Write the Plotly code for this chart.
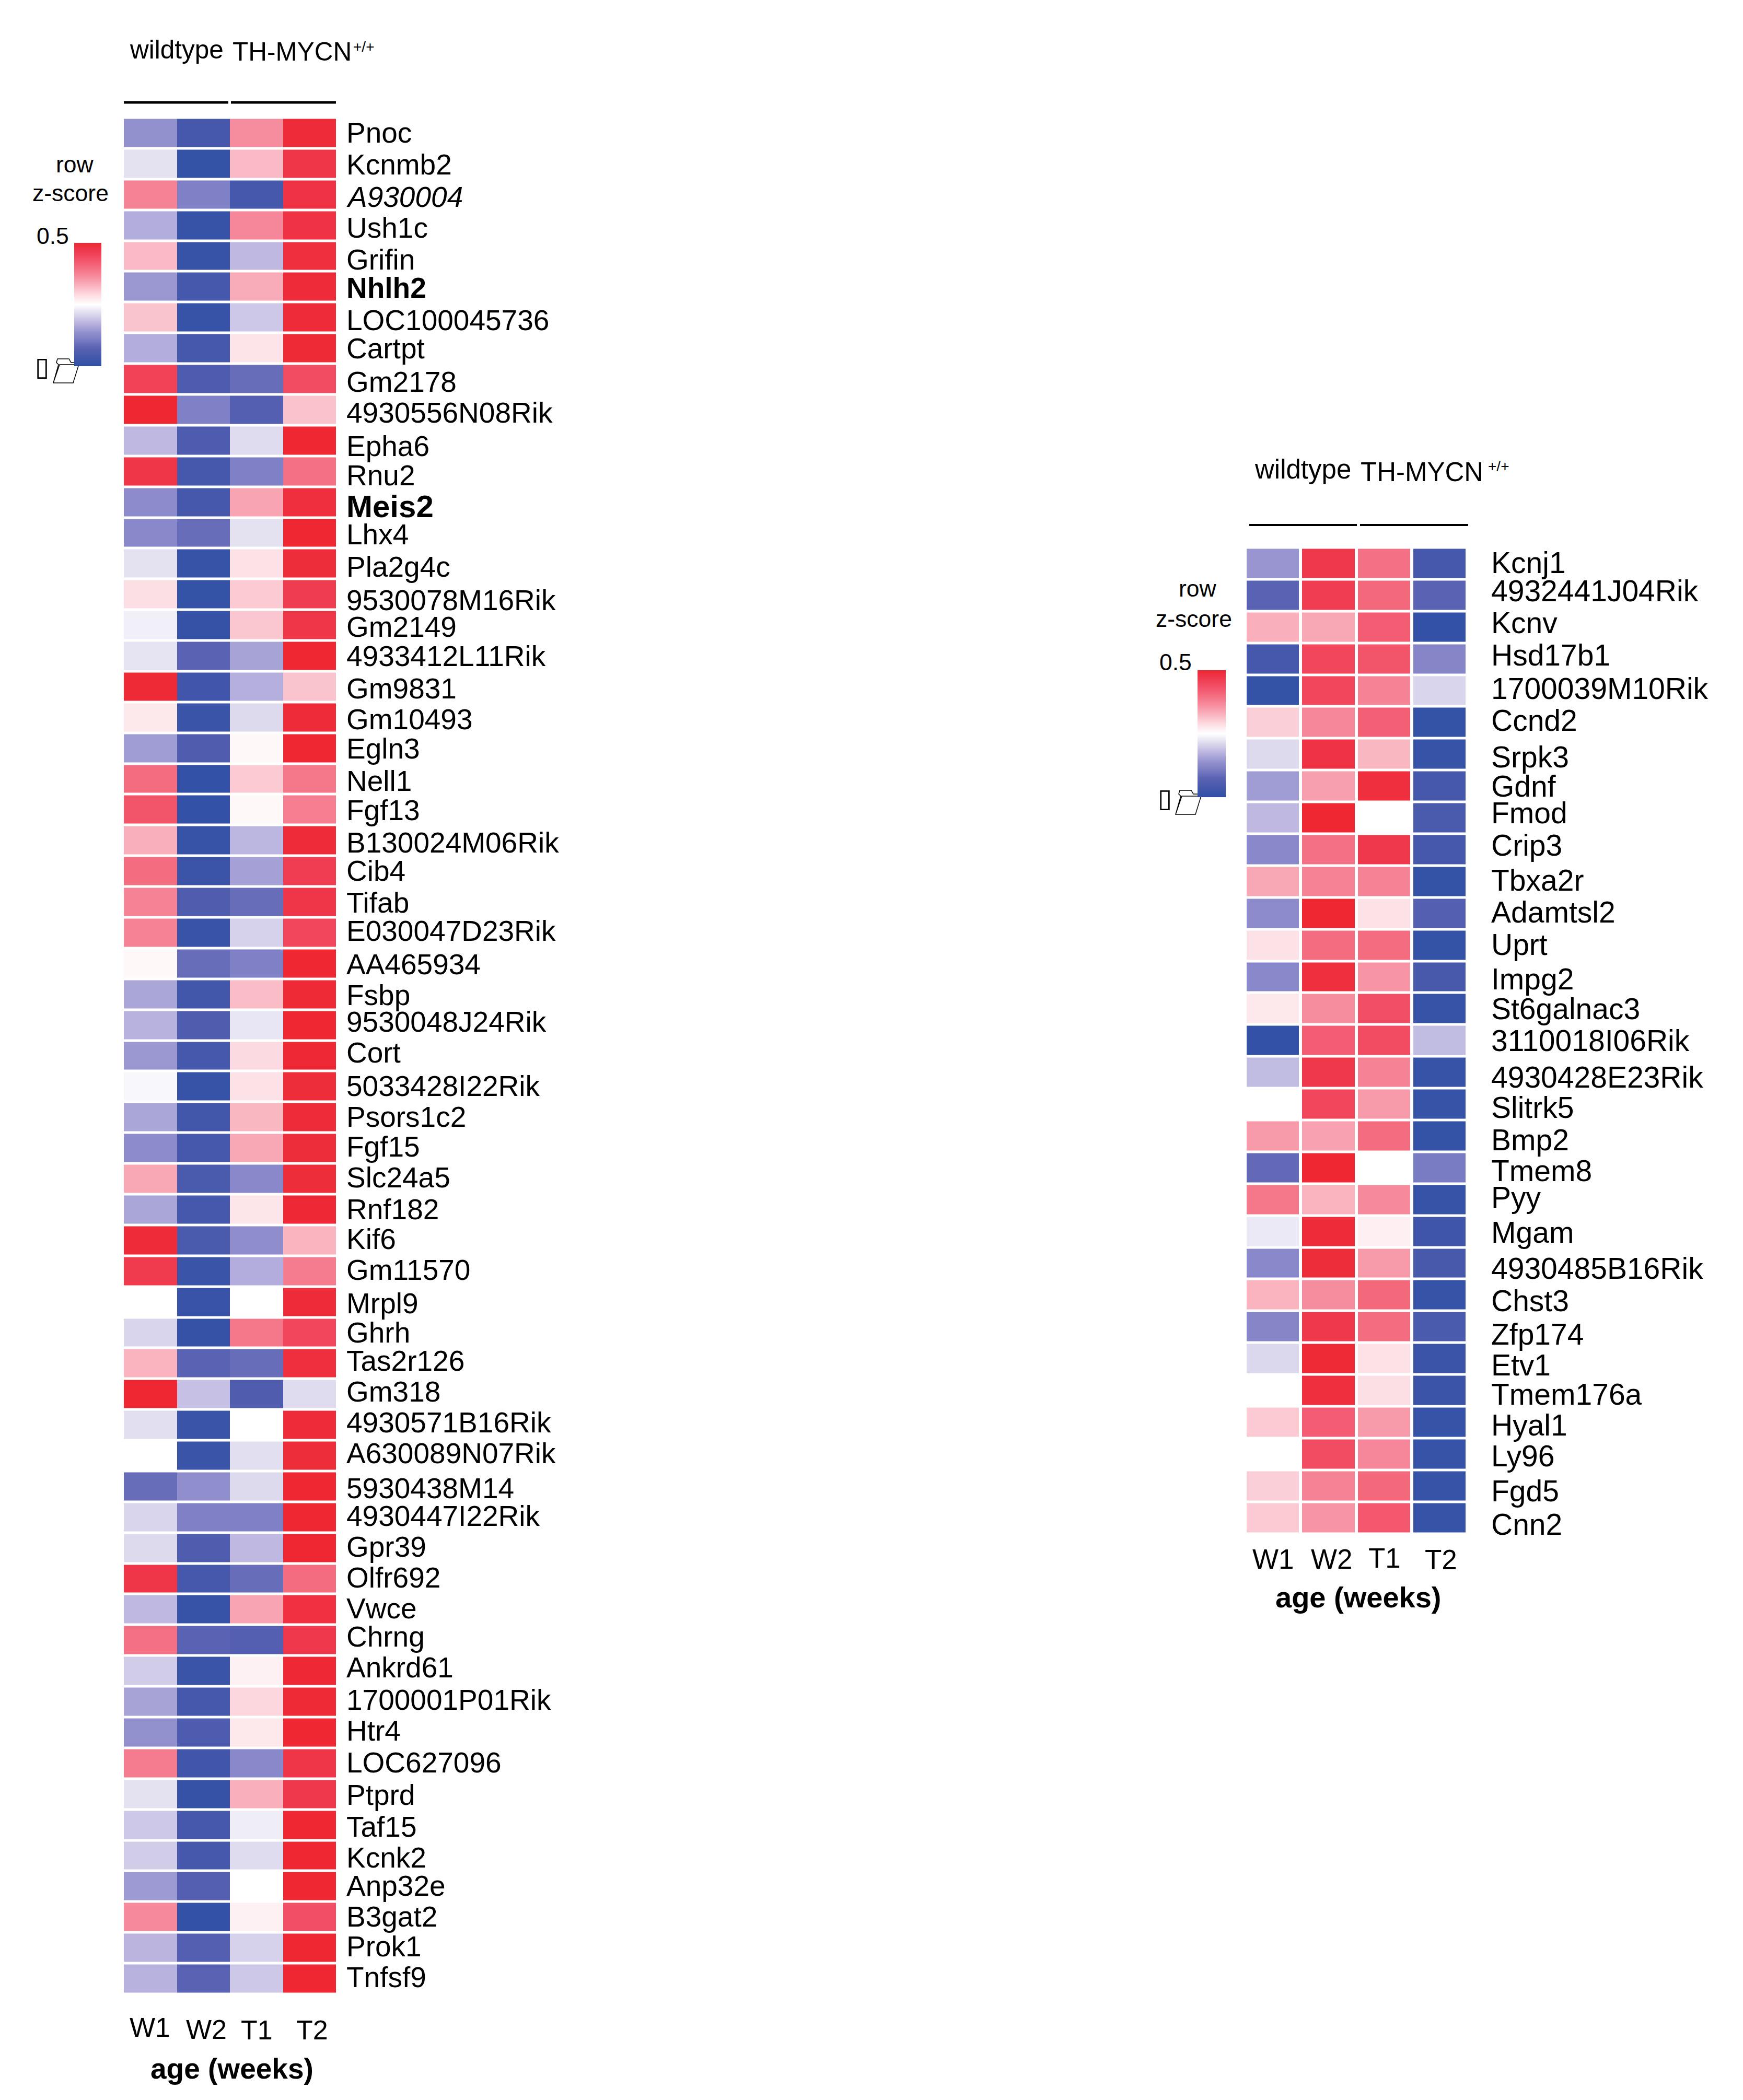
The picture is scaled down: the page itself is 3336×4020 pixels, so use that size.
# %%
import plotly.graph_objects as go

W, H = 3336, 4020
FONT = "Liberation Sans"

# %%
# Left heatmap, values (row z-score scaled to -1..1)
weeks = ["W1", "W2", "T1", "T2"]

left_genes = [
    "Pnoc", "Kcnmb2", "A930004", "Ush1c", "Grifin", "Nhlh2", "LOC100045736", "Cartpt", "Gm2178",
    "4930556N08Rik", "Epha6", "Rnu2", "Meis2", "Lhx4", "Pla2g4c", "9530078M16Rik", "Gm2149",
    "4933412L11Rik", "Gm9831", "Gm10493", "Egln3", "Nell1", "Fgf13", "B130024M06Rik", "Cib4",
    "Tifab", "E030047D23Rik", "AA465934", "Fsbp", "9530048J24Rik", "Cort", "5033428I22Rik",
    "Psors1c2", "Fgf15", "Slc24a5", "Rnf182", "Kif6", "Gm11570", "Mrpl9", "Ghrh", "Tas2r126",
    "Gm318", "4930571B16Rik", "A630089N07Rik", "5930438M14", "4930447I22Rik", "Gpr39", "Olfr692",
    "Vwce", "Chrng", "Ankrd61", "1700001P01Rik", "Htr4", "LOC627096", "Ptprd", "Taf15", "Kcnk2",
    "Anp32e", "B3gat2", "Prok1", "Tnfsf9",
]

left_values = [
    [-.45, -.85, .45, .97], [-.12, -.97, .28, .9], [.5, -.55, -.85, .92], [-.33, -.95, .48, .92],
    [.28, -.95, -.28, .95], [-.42, -.85, .33, .97], [.24, -.95, -.22, .97], [-.33, -.85, .12, .98],
    [.82, -.8, -.65, .76], [1, -.55, -.75, .25], [-.28, -.8, -.14, 1], [.9, -.85, -.55, .58],
    [-.48, -.85, .36, .95], [-.5, -.65, -.12, 1], [-.12, -.95, .13, .96], [.14, -.97, .22, .86],
    [-.06, -.96, .23, .9], [-.11, -.72, -.37, 1], [.98, -.88, -.32, .24], [.1, -.93, -.15, .97],
    [-.4, -.78, .03, 1], [.6, -.98, .22, .55], [.72, -.98, .03, .52], [.32, -.95, -.29, .97],
    [.6, -.92, -.38, .85], [.5, -.78, -.65, .9], [.5, -.94, -.18, .8], [.03, -.65, -.55, 1],
    [-.36, -.87, .27, .98], [-.31, -.78, -.1, 1], [-.42, -.85, .16, .99], [-.03, -.95, .13, .96],
    [-.36, -.87, .29, .97], [-.48, -.85, .35, .96], [.35, -.82, -.5, .96], [-.36, -.85, .11, .99],
    [.97, -.82, -.47, .3], [.87, -.93, -.33, .53], [0, -.94, 0, .97], [-.17, -.96, .55, .8],
    [.3, -.72, -.65, .95], [1, -.25, -.78, -.14], [-.13, -.93, 0, .97], [0, -.93, -.13, .96],
    [-.65, -.46, -.15, 1], [-.17, -.55, -.55, 1], [-.15, -.78, -.28, 1], [.9, -.85, -.65, .6],
    [-.28, -.95, .36, .93], [.58, -.72, -.75, .88], [-.2, -.93, .06, .99], [-.37, -.85, .17, .98],
    [-.45, -.8, .1, 1], [.53, -.88, -.5, .9], [-.12, -.96, .32, .88], [-.22, -.85, -.07, 1],
    [-.2, -.85, -.14, 1], [-.41, -.75, 0, 1], [.47, -.98, .06, .75], [-.3, -.75, -.18, 1],
    [-.31, -.72, -.22, 1],
]

# %%
# Right heatmap
right_genes = [
    "Kcnj1", "4932441J04Rik", "Kcnv", "Hsd17b1", "1700039M10Rik", "Ccnd2", "Srpk3", "Gdnf", "Fmod",
    "Crip3", "Tbxa2r", "Adamtsl2", "Uprt", "Impg2", "St6galnac3", "3110018I06Rik", "4930428E23Rik",
    "Slitrk5", "Bmp2", "Tmem8", "Pyy", "Mgam", "4930485B16Rik", "Chst3", "Zfp174", "Etv1",
    "Tmem176a", "Hyal1", "Ly96", "Fgd5", "Cnn2",
]

right_values = [
    [-.43, .88, .58, -.85], [-.72, .85, .62, -.72], [.32, .35, .68, -.98], [-.85, .8, .72, -.52],
    [-.97, .8, .5, -.17], [.2, .48, .66, -.97], [-.15, .92, .29, -.95], [-.4, .38, .95, -.85],
    [-.28, 1, 0, -.82], [-.5, .58, .88, -.85], [.35, .5, .5, -.97], [-.48, 1, .13, -.75],
    [.13, .6, .6, -.97], [-.5, .95, .42, -.83], [.1, .45, .75, -.95], [-.98, .68, .76, -.27],
    [-.27, .88, .5, -.95], [0, .8, .4, -.95], [.4, .37, .6, -.97], [-.67, 1, 0, -.57],
    [.55, .3, .47, -.95], [-.09, .97, .07, -.9], [-.5, .96, .4, -.83], [.3, .45, .62, -.95],
    [-.52, .88, .6, -.82], [-.16, .98, .13, -.92], [0, .95, .14, -.92], [.22, .68, .4, -.95],
    [0, .76, .48, -.95], [.2, .5, .62, -.95], [.22, .42, .7, -.95],
]

# %%
# The gene labels are not evenly spaced in the figure, so their centres go in by hand (page px)
left_label_y = [
    254, 315, 377, 436, 497, 551, 613, 667, 731, 790, 854, 910, 969, 1023, 1085, 1149, 1200, 1256,
    1318, 1377, 1433, 1495, 1551, 1613, 1667, 1728, 1782, 1846, 1905, 1956, 2015, 2079, 2138, 2195,
    2254, 2315, 2372, 2431, 2495, 2551, 2605, 2664, 2723, 2782, 2849, 2902, 2961, 3020, 3079, 3133,
    3192, 3254, 3313, 3374, 3436, 3497, 3556, 3610, 3669, 3726, 3785,
]
right_label_y = [
    1077, 1131, 1192, 1254, 1318, 1379, 1449, 1505, 1556, 1618, 1685, 1746, 1808, 1874, 1931, 1992,
    2062, 2120, 2182, 2241, 2292, 2359, 2428, 2490, 2554, 2613, 2669, 2728, 2787, 2854, 2918,
]

colorscale = [
    [0.0, "#3050A5"], [0.075, "#4558AB"], [0.15, "#5C63B4"], [0.225, "#7F80C5"], [0.275, "#9390CE"],
    [0.35, "#BAB4DF"], [0.425, "#DDDAEE"], [0.5, "#FFFFFF"], [0.575, "#FCDDE3"], [0.65, "#F9B4C0"],
    [0.725, "#F68D9F"], [0.8, "#F46C80"], [0.875, "#F24E65"], [0.95, "#EF3548"], [1.0, "#EE2733"],
]


def px(x):
    return x / W


def py(y):
    return 1 - y / H


def add_text(fig, x, y, text, size, anchor="center", family=FONT):
    fig.add_annotation(
        x=px(x), y=py(y), xref="paper", yref="paper", text=text, showarrow=False,
        xanchor=anchor, yanchor="middle", borderpad=0,
        font=dict(family=family, size=size, color="black"),
    )


def add_heatmap(fig, n, genes, values, box, gap, bar):
    x0, x1, y0, y1 = box
    xa = "xaxis" if n == 1 else f"xaxis{n}"
    ya = "yaxis" if n == 1 else f"yaxis{n}"
    fig.add_trace(go.Heatmap(
        z=values, x=weeks, y=genes, zmin=-1, zmax=1, colorscale=colorscale,
        xgap=gap[0], ygap=gap[1], xaxis=f"x{n}", yaxis=f"y{n}", hoverongaps=False,
        colorbar=dict(
            x=px(bar[0]), y=py(bar[2]), xanchor="left", yanchor="top",
            thicknessmode="pixels", thickness=bar[1] - bar[0],
            lenmode="pixels", len=bar[3] - bar[2],
            xpad=0, ypad=0, outlinewidth=0, ticks="", showticklabels=False,
        ),
    ))
    fig.update_layout({
        xa: dict(domain=[px(x0), px(x1)], anchor=f"y{n}", visible=False, fixedrange=True),
        ya: dict(domain=[py(y1), py(y0)], anchor=f"x{n}", visible=False, fixedrange=True,
                 autorange="reversed"),
    })


def add_folder(fig, x, y):
    # the broken glyph under the colour bar, an open folder outline
    points = [(0, 47), (10, 12), (6, 8), (8, 1), (30, 1), (34, 8), (50, 8), (38, 47), (0, 47), (12, 12), (50, 12)]
    path = "M " + " L ".join(f"{px(x + a)},{py(y + b)}" for a, b in points)
    fig.add_shape(type="path", path=path, xref="paper", yref="paper",
                  line=dict(color="black", width=1.5))


# %%
fig = go.Figure()

add_heatmap(fig, 1, left_genes, left_values, (237, 643, 225.5, 3817.5), (0, 5), (142, 194, 465, 701))
add_heatmap(fig, 2, right_genes, right_values, (2383, 2808, 1048.5, 2936), (6, 5), (2292, 2346, 1283, 1526))

for gene, y in zip(left_genes, left_label_y):
    size = 55
    text = gene
    if gene == "Nhlh2":
        text = "<b>Nhlh2</b>"
    if gene == "Meis2":
        text, size = "<b>Meis2</b>", 60
    if gene == "A930004":
        text = "<i>A930004</i>"
    add_text(fig, 662, y, text, size, anchor="left")

for gene, y in zip(right_genes, right_label_y):
    add_text(fig, 2853, y, gene, 57, anchor="left")

# group headers and the lines under them, the +/+ is its own small text
add_text(fig, 247, 94, "wildtype", 49.5, anchor="left")
add_text(fig, 444, 99, "TH-MYCN", 49.5, anchor="left")
add_text(fig, 675, 90, "+/+", 28, anchor="left")
add_text(fig, 2400, 899, "wildtype", 51, anchor="left")
add_text(fig, 2603, 903, "TH-MYCN", 51, anchor="left")
add_text(fig, 2847, 893, "+/+", 28, anchor="left")

for x0, x1, y, lw in [(237, 437, 196, 5), (442, 643, 196, 5), (2391, 2597, 1005, 4), (2603, 2810, 1005, 4)]:
    fig.add_shape(type="line", x0=px(x0), x1=px(x1), y0=py(y), y1=py(y),
                  xref="paper", yref="paper", line=dict(color="black", width=lw))

# colour legends
add_text(fig, 143, 314, "row", 44.5)
add_text(fig, 135, 370, "z-score", 44.5)
add_text(fig, 101, 451, "0.5", 44.5)
add_text(fig, 2292, 1127, "row", 44.5)
add_text(fig, 2285, 1184, "z-score", 44.5)
add_text(fig, 2250, 1268, "0.5", 44.5)
add_text(fig, 81, 702, "▯", 50, family="DejaVu Sans")
add_text(fig, 2230, 1528, "▯", 50, family="DejaVu Sans")
add_folder(fig, 102, 686)
add_folder(fig, 2250, 1512)

# week labels under each heatmap
for week, x, y in zip(weeks, [287, 395, 491, 597], [3881, 3885, 3886, 3886]):
    add_text(fig, x, y, week, 52)
for week, x, y in zip(weeks, [2437, 2549, 2650, 2758], [2984, 2984, 2982, 2985]):
    add_text(fig, x, y, week, 53)
add_text(fig, 444, 3960, "<b>age (weeks)</b>", 55)
add_text(fig, 2600, 3057, "<b>age (weeks)</b>", 56)

fig.update_layout(
    width=W, height=H, margin=dict(l=0, r=0, t=0, b=0, pad=0),
    paper_bgcolor="white", plot_bgcolor="white", showlegend=False,
)

fig.write_html("out.html", config={"displayModeBar": False}, post_script="document.body.style.margin='0';")
